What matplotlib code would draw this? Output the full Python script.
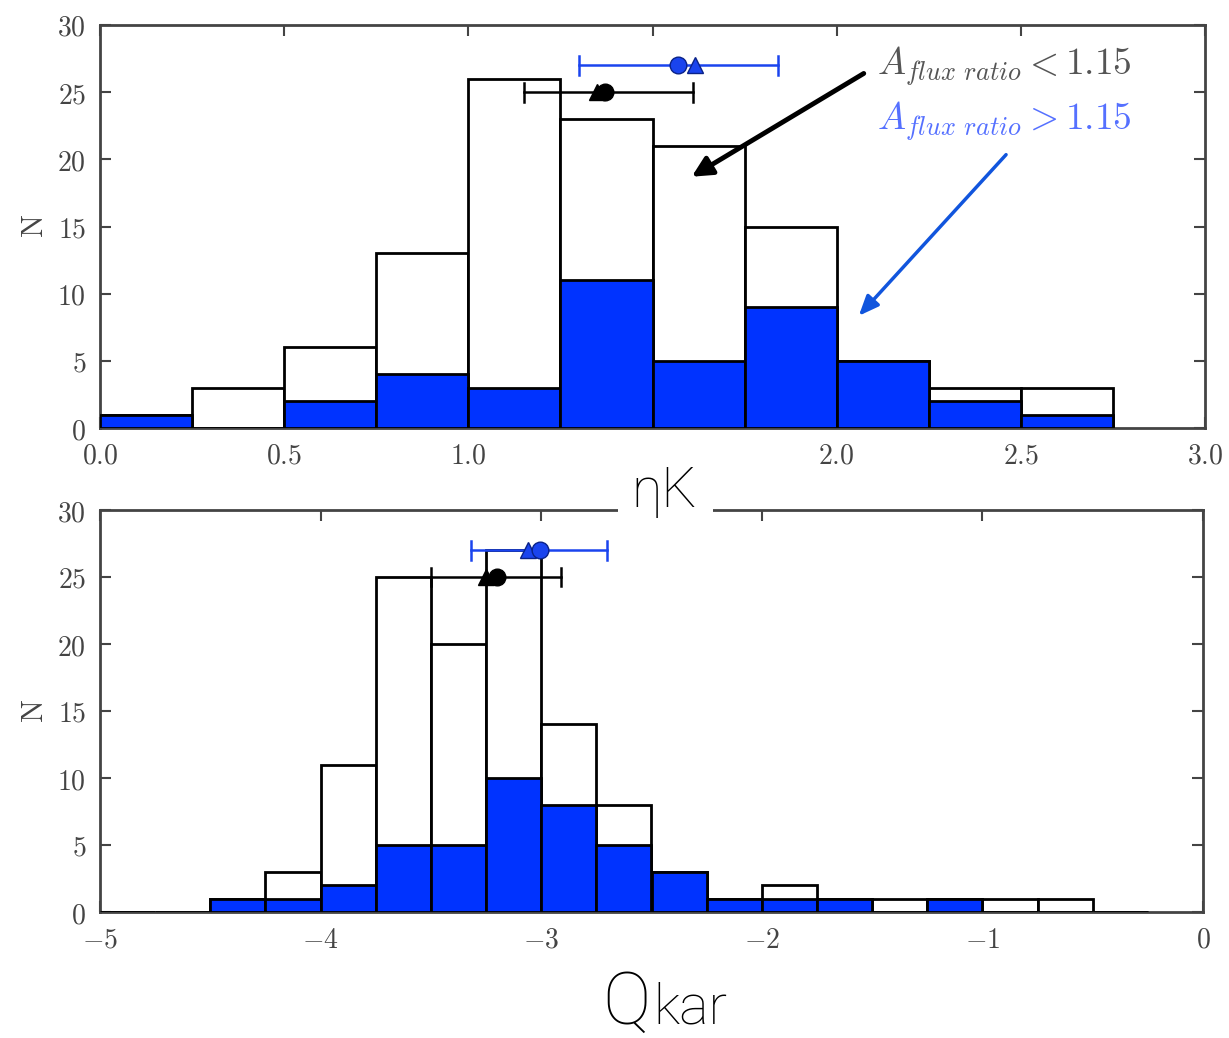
import numpy as np
import matplotlib
matplotlib.use("Agg")
import matplotlib.pyplot as plt
from matplotlib.patches import Rectangle
from matplotlib.ticker import FuncFormatter, MultipleLocator

plt.rcParams['mathtext.fontset'] = 'cm'
plt.rcParams['font.family'] = ['DejaVu Sans']

# ---------------- data ----------------
# top panel (eta K): bin left edges, width 0.25
eta_bins = [0.0, 0.25, 0.5, 0.75, 1.0, 1.25, 1.5, 1.75, 2.0, 2.25, 2.5]
eta_all = [1, 3, 6, 13, 26, 23, 21, 15, 5, 3, 3]
eta_high = [1, 0, 2, 4, 3, 11, 5, 9, 5, 2, 1]

# bottom panel (Q kar)
q_bins = [-5.0, -4.75, -4.5, -4.25, -4.0, -3.75, -3.5, -3.25, -3.0, -2.75, -2.5,
          -2.25, -2.0, -1.75, -1.5, -1.25, -1.0, -0.75, -0.5]
q_all = [0, 0, 1, 3, 11, 25, 20, 27, 14, 8, 3, 1, 2, 1, 1, 1, 1, 1, 0]
q_high = [0, 0, 1, 1, 2, 5, 5, 10, 8, 5, 3, 1, 1, 1, 0, 1, 0, 0, 0]
bin_width = 0.25

# mean markers and error bars: (circle x, triangle x, err lo, err hi, y)
eta_low_circle, eta_low_tri, eta_low_err, eta_low_y = 1.37, 1.35, (1.15, 1.61), 25
eta_high_circle, eta_high_tri, eta_high_err, eta_high_y = 1.57, 1.615, (1.30, 1.84), 27
q_low_circle, q_low_tri, q_low_err, q_low_y = -3.20, -3.25, (-3.50, -2.91), 25
q_high_circle, q_high_tri, q_high_err, q_high_y = -3.005, -3.06, (-3.32, -2.70), 27

# top x tick labels shown (1.5 hidden behind the axis title in the original)
eta_xtick_labels = {0.0: '0.0', 0.5: '0.5', 1.0: '1.0', 1.5: '', 2.0: '2.0', 2.5: '2.5', 3.0: '3.0'}

BLUE = '#0033ff'
GREY = '#444444'
SANS = ['Roboto', 'DejaVu Sans']

fig = plt.figure(figsize=(12.29, 10.38), dpi=100)
ax1 = fig.add_axes([100/1229, 1-428/1038, 1105/1229, 403/1038])
ax2 = fig.add_axes([100/1229, 1-912/1038, 1103/1229, 402/1038])


def draw_panel(ax, bins, h_all, h_high, markers):
    ax.bar(bins, h_all, width=bin_width, align='edge', color='white',
           edgecolor='black', linewidth=2, zorder=2)
    ax.bar(bins, h_high, width=bin_width, align='edge', color=BLUE,
           edgecolor='black', linewidth=2, zorder=3)
    for (c, t, err, y, col, mec) in markers:
        ax.plot([err[0], err[1]], [y, y], color=col, lw=1.8, zorder=4)
        for xe in err:
            ax.plot([xe, xe], [y - 0.7, y + 0.7], color=col, lw=1.8, zorder=4)
        ax.plot([t], [y], marker='^', ms=11, color=col, mec=mec, zorder=5)
        ax.plot([c], [y], marker='o', ms=12, color=col, mec=mec, zorder=5)


draw_panel(ax1, eta_bins, eta_all, eta_high,
           [(eta_low_circle, eta_low_tri, eta_low_err, eta_low_y, 'black', 'black'),
            (eta_high_circle, eta_high_tri, eta_high_err, eta_high_y, '#1a44ee', '#0a2288')])
draw_panel(ax2, q_bins, q_all, q_high,
           [(q_low_circle, q_low_tri, q_low_err, q_low_y, 'black', 'black'),
            (q_high_circle, q_high_tri, q_high_err, q_high_y, '#1a44ee', '#0a2288')])

ax1.set_xlim(0, 3)
ax2.set_xlim(-5, 0)
for ax in (ax1, ax2):
    ax.set_ylim(0, 30)
    ax.yaxis.set_major_locator(MultipleLocator(5))
    ax.tick_params(direction='in', top=True, right=True, length=8, width=1.5,
                   colors=GREY, labelsize=20, pad=10)
    for s in ax.spines.values():
        s.set_linewidth(2)
        s.set_color(GREY)
    ax.yaxis.set_major_formatter(FuncFormatter(lambda v, p: r'$%d$' % v))
    ax.set_ylabel(r'$\mathrm{N}$', fontsize=22, color=GREY, labelpad=6)


def eta_fmt(v, p):
    lab = eta_xtick_labels.get(round(v, 2), '%.1f' % v)
    return r'$%s$' % lab if lab else ''


ax1.xaxis.set_major_locator(MultipleLocator(0.5))
ax1.xaxis.set_major_formatter(FuncFormatter(eta_fmt))
ax2.xaxis.set_major_locator(MultipleLocator(1))
ax2.xaxis.set_major_formatter(FuncFormatter(lambda v, p: r'$%d$' % v))

# annotations
ax1.text(2.11, 26.9, r'$A_{flux\ ratio} < 1.15$', fontsize=27, color='#555555',
         va='center', ha='left', zorder=6)
ax1.text(2.11, 22.8, r'$A_{flux\ ratio} > 1.15$', fontsize=27, color='#5570ff',
         va='center', ha='left', zorder=6)
ax1.annotate('', xy=(1.60, 18.6), xytext=(2.08, 26.5),
             arrowprops=dict(arrowstyle='-|>,head_length=1.2,head_width=0.6',
                             color='black', lw=3.5), zorder=6)
ax1.annotate('', xy=(2.055, 8.2), xytext=(2.465, 20.5),
             arrowprops=dict(arrowstyle='-|>,head_length=1.2,head_width=0.5',
                             color='#1155dd', lw=2.5), zorder=6)

# axis titles
fig.patches.append(Rectangle((618/1229, 1-517/1038), 95/1229, 70/1038,
                             transform=fig.transFigure, facecolor='white',
                             edgecolor='none', zorder=10))
fig.text(664/1229, 1-492/1038, 'ηK', fontsize=40, ha='center', va='center',
         family=SANS, fontweight='light', zorder=11)
fig.text(651/1229, 1-1024/1038, 'Q', fontsize=52, ha='right', va='baseline',
         family=SANS, fontweight='light', zorder=11)
fig.text(653/1229, 1-1024/1038, 'kar', fontsize=40, ha='left', va='baseline',
         family=SANS, fontweight='light', zorder=11)

fig.savefig('out.png', dpi=100)
